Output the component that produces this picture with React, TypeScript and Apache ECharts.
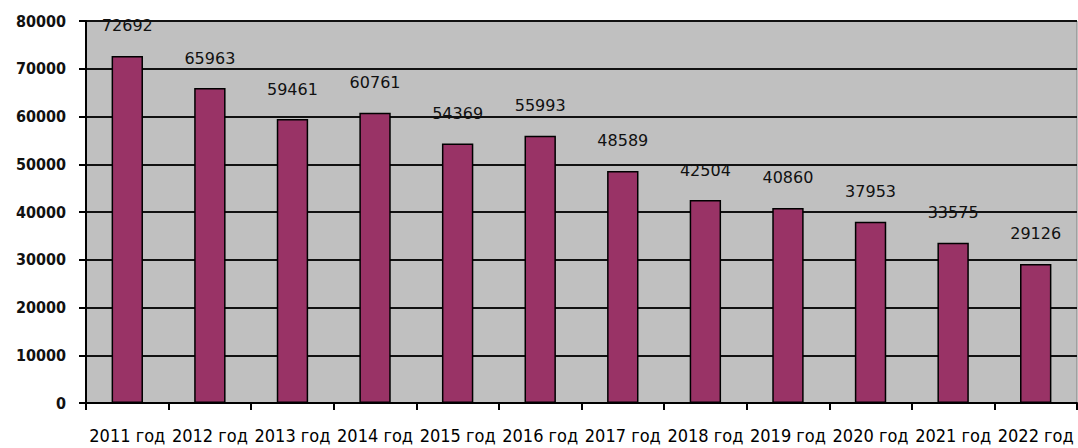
import React, { useEffect, useRef } from "react";
import * as echarts from "echarts";

const categories = ["2011 год", "2012 год", "2013 год", "2014 год", "2015 год", "2016 год", "2017 год", "2018 год", "2019 год", "2020 год", "2021 год", "2022 год"];
const values = [72692, 65963, 59461, 60761, 54369, 55993, 48589, 42504, 40860, 37953, 33575, 29126];

export default function App() {
  const ref = useRef<HTMLDivElement>(null);
  useEffect(() => {
    const chart = echarts.init(ref.current!, null, { renderer: "svg" });
    chart.setOption({
      animation: false,
      grid: {
        left: 86, right: 1, top: 21, bottom: 45,
        show: true, backgroundColor: "#c0c0c0", borderColor: "#808080", borderWidth: 1,
      },
      xAxis: {
        type: "category",
        data: categories,
        axisLine: { show: true, lineStyle: { color: "#000", width: 2 } },
        axisTick: { show: true, length: 7, lineStyle: { color: "#000", width: 2 }, alignWithLabel: false },
        axisLabel: {
          interval: 0, hideOverlap: false, color: "#000", fontSize: 18, fontWeight: 500,
          fontFamily: "DejaVu Sans Condensed", margin: 23,
        },
      },
      yAxis: {
        type: "value",
        min: 0, max: 80000, interval: 10000,
        axisLine: { show: true, lineStyle: { color: "#000", width: 2 } },
        axisTick: { show: true, length: 7, lineStyle: { color: "#000", width: 2 } },
        splitLine: { lineStyle: { color: "#111", width: 2 } },
        axisLabel: {
          color: "#111", fontSize: 16, fontWeight: "bold", fontFamily: "DejaVu Sans Condensed", margin: 20,
          formatter: (v: number) => String(v),
        },
      },
      series: [{
        type: "bar",
        data: values,
        barWidth: "38%",
        itemStyle: { color: "#993366", borderColor: "#000", borderWidth: 1.5 },
        label: {
          show: true, position: "top", distance: 22, color: "#111", fontSize: 16,
          fontFamily: "DejaVu Sans",
        },
      }],
    });
    return () => chart.dispose();
  }, []);
  return <div ref={ref} style={{ width: 1078, height: 448, position: "absolute", left: 0, top: 0 }} />;
}
